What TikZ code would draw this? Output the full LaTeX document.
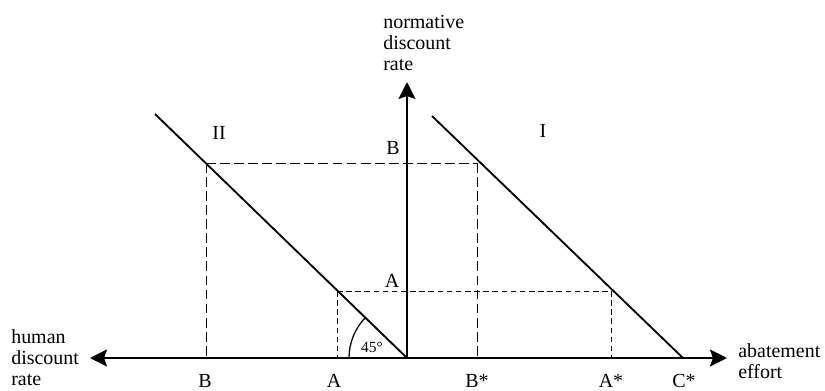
\documentclass[tikz,border=0pt]{standalone}
\usepackage{fontspec}
\setmainfont{Liberation Serif}
\usetikzlibrary{arrows.meta, positioning, calc}

\begin{document}
\begin{tikzpicture}[x=0.025cm, y=-0.025cm,
  axis/.style={line width=1.8pt, -{Stealth[length=12pt, width=12pt, inset=2pt]}},
  curve/.style={line width=1.3pt},
  guide/.style={line width=0.6pt, dash pattern=on 7pt off 3pt},
  fineguide/.style={line width=0.6pt, dash pattern=on 4pt off 2.5pt},
  lbl/.style={font=\fontsize{14.2}{15}\selectfont, inner sep=0pt},
  axlbl/.style={lbl, align=left, anchor=west}
]
  \useasboundingbox (0,0) rectangle (825,390);

  % axes
  \coordinate (O) at (407,358);
  \coordinate (xl) at (90,358);
  \coordinate (xr) at (727,358);
  \coordinate (yt) at (407,82);
  \draw[axis] (O) -- (xl);
  \draw[axis] (O) -- (xr);
  \draw[axis] (O) -- (yt);

  \node[axlbl] (ylab) at (383,43) {normative\\discount\\rate};
  \node[axlbl] (hlab) at (11,358) {human\\discount\\rate};
  \node[axlbl] (elab) at (738,361) {abatement\\effort};

  % the two schedules
  \coordinate (IItop) at (155,114);
  \coordinate (Itop) at (432,116);
  \coordinate (Cs) at (683,358);
  \draw[curve] (IItop) -- (O);
  \draw[curve] (Itop) -- (Cs);
  \node[lbl] (II) at (219,133) {II};
  \node[lbl] (I) at (543,131) {I};

  % 45 degree mark
  \draw[line width=0.9pt] ($(O)+(-58,0)$) arc[start angle=180, end angle=135, radius=1.45cm];
  \node[lbl, font=\fontsize{11}{11}\selectfont] (ang) at (372,347) {45°};

  % B construction
  \coordinate (bII) at (206,163);
  \coordinate (bI) at (477,163);
  \draw[guide] (bII) -- (bI);
  \draw[guide] (bII) -- (bII |- O);
  \draw[guide] (bI) -- (bI |- O);
  \node[lbl] (yB) at (393,148) {B};

  % A construction
  \coordinate (aII) at (337,291);
  \coordinate (aI) at (611,291);
  \draw[fineguide] (aII) -- (aI);
  \draw[fineguide] (aII) -- (aII |- O);
  \draw[fineguide] (aI) -- (aI |- O);
  \node[lbl] (yA) at (392,281) {A};

  % points on the axis
  \node[lbl] (xB) at (205,381) {B};
  \node[lbl] (xA) at (334,381) {A};
  \node[lbl] (xBs) at (477,381) {B*};
  \node[lbl] (xAs) at (611,381) {A*};
  \node[lbl] (xCs) at (684,381) {C*};
\end{tikzpicture}
\end{document}
